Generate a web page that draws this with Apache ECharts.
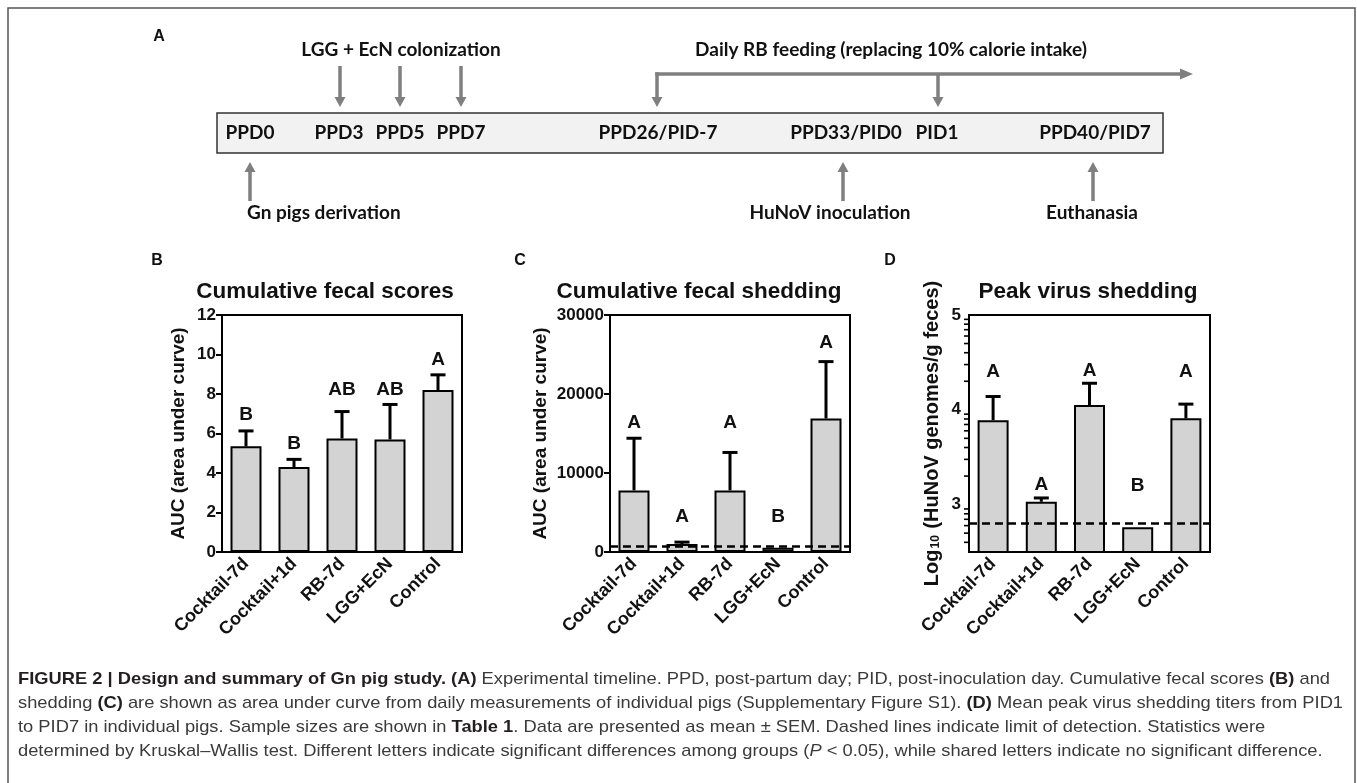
<!DOCTYPE html>
<html><head><meta charset="utf-8">
<script src="https://cdn.jsdelivr.net/npm/echarts@6/dist/echarts.min.js"></script>
<style>html,body{margin:0;padding:0;background:#fff}#c{width:1357px;height:783px}</style>
</head><body><div id="c"></div>
<script>
// ---------------- DATA ----------------
const categories = ['Cocktail-7d', 'Cocktail+1d', 'RB-7d', 'LGG+EcN', 'Control'];

// B: cumulative fecal scores (AUC)
const scoreMean = [5.35, 4.30, 5.75, 5.70, 8.20];
const scoreSem = [0.78, 0.39, 1.36, 1.77, 0.77];
const scoreLetters = ['B', 'B', 'AB', 'AB', 'A'];
const scoreLetterAt = [6.94, 5.46, 8.21, 8.21, 9.72];

// C: cumulative fecal shedding (AUC)
const shedMean = [7800, 1000, 7800, 550, 16900];
const shedSem = [6600, 250, 4800, 0, 7200];
const shedLetters = ['A', 'A', 'A', 'B', 'A'];
const shedLetterAt = [16400, 4500, 16400, 4500, 26500];
const shedLOD = 700;

// D: peak virus shedding (log10 genomes/g feces)
const peakMean = [3.89, 3.03, 4.05, 2.76, 3.91];
const peakSem = [0.25, 0.04, 0.23, 0, 0.15];
const peakLetters = ['A', 'A', 'A', 'B', 'A'];
const peakLetterAt = [4.40, 3.21, 4.41, 3.20, 4.40];
const peakLOD = 2.8;

// tick labels
const scoreTicks = [0, 2, 4, 6, 8, 10, 12];
const shedTicks = [0, 10000, 20000, 30000];
const peakTicks = [3, 4, 5];
const peakMinorMult = [2, 3, 4, 5, 6, 7, 8, 9];

// timeline (panel A) texts
const timelineBoxLabels = ['PPD0', 'PPD3', 'PPD5', 'PPD7', 'PPD26/PID-7', 'PPD33/PID0', 'PID1', 'PPD40/PID7'];
const timelineTop = ['LGG + EcN colonization', 'Daily RB feeding (replacing 10% calorie intake)'];
const timelineBottom = ['Gn pigs derivation', 'HuNoV inoculation', 'Euthanasia'];

// caption lines (rich segments)
const captionLines = [
  [['b', 'FIGURE 2 | Design and summary of Gn pig study. (A)'], ['n', ' Experimental timeline. PPD, post-partum day; PID, post-inoculation day. Cumulative fecal scores '], ['b', '(B)'], ['n', ' and']],
  [['n', 'shedding '], ['b', '(C)'], ['n', ' are shown as area under curve from daily measurements of individual pigs (Supplementary Figure S1). '], ['b', '(D)'], ['n', ' Mean peak virus shedding titers from PID1']],
  [['n', 'to PID7 in individual pigs. Sample sizes are shown in '], ['b', 'Table 1'], ['n', '. Data are presented as mean \u00b1 SEM. Dashed lines indicate limit of detection. Statistics were']],
  [['n', 'determined by Kruskal\u2013Wallis test. Different letters indicate significant differences among groups ('], ['i', 'P'], ['n', ' < 0.05), while shared letters indicate no significant difference.']]
];

// ---------------- LAYOUT ----------------
const AX = 'Arial, "Liberation Sans", sans-serif';
const TL = 'Lato, Calibri, "Open Sans", sans-serif';
const grids = [
  {left: 222, top: 315, width: 240, height: 237},
  {left: 610, top: 315, width: 240, height: 237},
  {left: 969, top: 315, width: 241, height: 237}
];
const GRAY = '#7f7f7f';

function xAxisFor(i) {
  return {
    type: 'category', gridIndex: i, data: categories,
    axisLine: {lineStyle: {color: '#000', width: 2}},
    axisTick: {alignWithLabel: true, length: 6, lineStyle: {color: '#000', width: 2}},
    axisLabel: {rotate: 45, interval: 0, margin: 9, color: '#111', fontWeight: 'bold', fontSize: 18, fontFamily: AX}
  };
}
function yAxisBase(i, extra) {
  return Object.assign({
    type: 'value', gridIndex: i, position: 'left',
    axisLine: {show: true, lineStyle: {color: '#000', width: 2}},
    axisTick: {show: true, length: 6, lineStyle: {color: '#000', width: 2}},
    axisLabel: {color: '#111', fontWeight: 'bold', fontSize: 17, fontFamily: AX, margin: 6, formatter: v => String(v)},
    splitLine: {show: false},
    nameLocation: 'middle', nameRotate: 90,
    nameTextStyle: {color: '#111', fontWeight: 'bold', fontSize: 19, fontFamily: AX}
  }, extra);
}

function barSeries(i, data, lod) {
  const s = {
    type: 'bar', xAxisIndex: i, yAxisIndex: i, data: data, barWidth: 31, clip: true,
    itemStyle: {color: '#d3d3d3', borderColor: '#000', borderWidth: 2},
    silent: true, z: 2
  };
  if (lod != null) {
    s.markLine = {silent: true, symbol: ['none', 'none'], label: {show: false},
      lineStyle: {color: '#000', type: [8, 5], width: 2.5}, data: [{yAxis: lod}], z: 5};
  }
  return s;
}
function errSeries(i, mean, sem) {
  return {
    type: 'custom', xAxisIndex: i, yAxisIndex: i, z: 4, silent: true,
    data: mean.map((m, k) => [k, m, m + sem[k], sem[k]]),
    renderItem: function (params, api) {
      if (api.value(3) <= 0) return null;
      const a = api.coord([api.value(0), api.value(1)]);
      const b = api.coord([api.value(0), api.value(2)]);
      return {type: 'group', children: [
        {type: 'line', shape: {x1: a[0], y1: a[1], x2: b[0], y2: b[1]}, style: {stroke: '#000', lineWidth: 3}},
        {type: 'line', shape: {x1: b[0] - 7.5, y1: b[1], x2: b[0] + 7.5, y2: b[1]}, style: {stroke: '#000', lineWidth: 3}}
      ]};
    }
  };
}
function letterSeries(i, letters, at) {
  return {
    type: 'custom', xAxisIndex: i, yAxisIndex: i, z: 6, silent: true,
    data: at.map((v, k) => [k, v]),
    renderItem: function (params, api) {
      const p = api.coord([api.value(0), api.value(1)]);
      return {type: 'text', x: p[0], y: p[1], style: {text: letters[params.dataIndex], font: 'bold 19px ' + AX, fill: '#111', align: 'center', verticalAlign: 'middle'}};
    }
  };
}

// ---- graphic for panel A, titles, caption ----
const graphic = [];
graphic.push({type: 'rect', shape: {x: 8, y: 8, width: 1347, height: 820}, style: {fill: 'none', stroke: '#555', lineWidth: 1.5}, silent: true});
function txt(t, x, y, font, align, color) {
  graphic.push({type: 'text', x: x, y: y, silent: true, style: {text: t, font: font, fill: color || '#111', align: align || 'center', verticalAlign: 'middle'}});
}
function line(x1, y1, x2, y2, w) {
  graphic.push({type: 'line', silent: true, shape: {x1, y1, x2, y2}, style: {stroke: GRAY, lineWidth: w || 3.5}});
}
function tri(points) {
  graphic.push({type: 'polygon', silent: true, shape: {points: points}, style: {fill: GRAY}});
}
function downArrow(x, y0, y1) { line(x, y0, x, y1 - 9); tri([[x - 5.5, y1 - 10], [x + 5.5, y1 - 10], [x, y1]]); }
function upArrow(x, y0, y1) { line(x, y0, x, y1 + 9); tri([[x - 5.5, y1 + 10], [x + 5.5, y1 + 10], [x, y1]]); }

// panel letters
txt('A', 159, 37, 'bold 16px ' + AX);
txt('B', 157, 261, 'bold 16px ' + AX);
txt('C', 520, 261, 'bold 16px ' + AX);
txt('D', 890, 261, 'bold 16px ' + AX);

// timeline box
graphic.push({type: 'rect', silent: true, shape: {x: 217, y: 113, width: 946, height: 40}, style: {fill: '#f2f2f2', stroke: '#333', lineWidth: 1.5}});
const boxX = [250, 339, 400, 461, 658, 846, 937, 1095];
timelineBoxLabels.forEach((t, k) => txt(t, boxX[k], 133, 'bold 19px ' + TL));
txt(timelineTop[0], 401, 50, 'bold 19px ' + TL);
txt(timelineTop[1], 891, 50, 'bold 19px ' + TL);
[340, 400, 461].forEach(x => downArrow(x, 66, 107));
// RB bracket
line(655.25, 74, 1182, 74);
tri([[1180, 68.5], [1180, 79.5], [1193, 74]]);
downArrow(657, 72.25, 107);
downArrow(938, 74, 107);
// bottom arrows
upArrow(250, 201, 162);
upArrow(843, 201, 162);
upArrow(1093, 201, 162);
txt(timelineBottom[0], 247, 213, 'bold 19px ' + TL, 'left');
txt(timelineBottom[1], 830, 213, 'bold 19px ' + TL);
txt(timelineBottom[2], 1092, 213, 'bold 19px ' + TL);

// chart titles
txt('Cumulative fecal scores', 325, 292, 'bold 22.5px ' + AX);
txt('Cumulative fecal shedding', 699, 292, 'bold 22.5px ' + AX);
txt('Peak virus shedding', 1088, 292, 'bold 22.5px ' + AX);

// caption
const CF = '"Liberation Sans", Arial, sans-serif';
const capFonts = {n: '17px ' + CF, b: 'bold 17px ' + CF, i: 'italic 17px ' + CF};
const cv = document.createElement('canvas').getContext('2d');
function measure(segs) { let w = 0; segs.forEach(s => { cv.font = capFonts[s[0]]; w += cv.measureText(s[1]).width; }); return w; }
const capScale = 1312 / measure(captionLines[0]);
const capY = [679, 703, 727, 751];
captionLines.forEach((segs, k) => {
  const text = segs.map(s => '{' + s[0] + '|' + s[1] + '}').join('');
  graphic.push({type: 'text', silent: true, x: 18, y: capY[k], scaleX: capScale,
    style: {text: text, verticalAlign: 'middle', align: 'left',
      rich: {n: {font: capFonts.n, fill: '#3a3a3a'}, b: {font: capFonts.b, fill: '#231f20'}, i: {font: capFonts.i, fill: '#3a3a3a'}}}});
});

// ---------------- OPTION ----------------
const peakMinor = [];
[2, 3, 4].forEach(n => peakMinorMult.forEach(m => { const v = n + Math.log10(m); if (v > 2.5 && v < 5) peakMinor.push(+v.toFixed(4)); }));

const option = {
  animation: false,
  backgroundColor: '#fff',
  grid: grids.map(g => Object.assign({show: true, borderColor: '#000', borderWidth: 2, backgroundColor: 'transparent', containLabel: false}, g)),
  xAxis: [xAxisFor(0), xAxisFor(1), xAxisFor(2)],
  yAxis: [
    yAxisBase(0, {min: 0, max: 12, interval: 2, name: 'AUC (area under curve)', nameGap: 34}),
    yAxisBase(1, {min: 0, max: 30000, interval: 10000, name: 'AUC (area under curve)', nameGap: 60}),
    yAxisBase(2, {min: 2.5, max: 5, name: '{n|Log}{s|10}{n| (HuNoV genomes/g feces)}', nameGap: 27,
      axisLabel: {customValues: peakTicks, color: '#111', fontWeight: 'bold', fontSize: 17, fontFamily: AX, margin: 8},
      axisTick: {customValues: peakTicks, length: 7, lineStyle: {color: '#000', width: 2}},
      nameTextStyle: {color: '#111', fontWeight: 'bold', fontSize: 20, fontFamily: AX,
        rich: {n: {fontWeight: 'bold', fontSize: 20, fontFamily: AX, color: '#111'}, s: {fontWeight: 'bold', fontSize: 12, fontFamily: AX, color: '#111', verticalAlign: 'bottom', padding: [8, 1, 0, 1]}}}})
  ],
  series: [
    barSeries(0, scoreMean), barSeries(1, shedMean, shedLOD), barSeries(2, peakMean, peakLOD),
    errSeries(0, scoreMean, scoreSem), errSeries(1, shedMean, shedSem), errSeries(2, peakMean, peakSem),
    letterSeries(0, scoreLetters, scoreLetterAt), letterSeries(1, shedLetters, shedLetterAt), letterSeries(2, peakLetters, peakLetterAt)
  ],
  graphic: graphic
};
option.yAxis[0].axisLabel.customValues = scoreTicks;
option.yAxis[1].axisLabel.customValues = shedTicks;

const chart = echarts.init(document.getElementById('c'), null, {renderer: 'canvas'});
chart.setOption(option);

// log-style minor ticks for panel D, placed through the axis scale
const ax0 = chart.convertToPixel({gridIndex: 2}, [0, 2.5]);
const gx = grids[2].left;
const minorEls = peakMinor.map(v => {
  const py = chart.convertToPixel({yAxisIndex: 2}, v);
  return {type: 'line', silent: true, z: 100, shape: {x1: gx - 5, y1: py, x2: gx - 0.5, y2: py}, style: {stroke: '#000', lineWidth: 1.6}};
});
chart.setOption({graphic: graphic.concat(minorEls)});
</script></body></html>
